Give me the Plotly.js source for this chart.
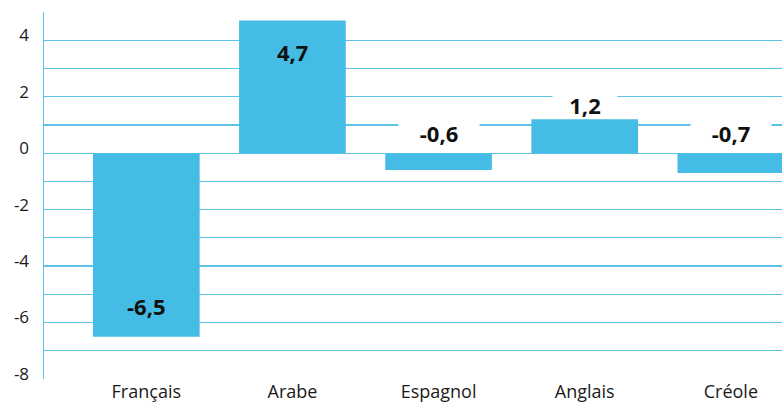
<!DOCTYPE html>
<html>
<head>
<meta charset="utf-8">
<script src="https://cdn.plot.ly/plotly-3.0.1.min.js"></script>
<style>
  html, body { margin: 0; padding: 0; background: #fff; }
  #chart { width: 782px; height: 406px; }
</style>
</head>
<body>
<div id="chart"></div>
<script>
// langues et variations
let langues = ["Français", "Arabe", "Espagnol", "Anglais", "Créole"];
let variations = [-6.5, 4.7, -0.6, 1.2, -0.7];
let etiquettes = ["-6,5", "4,7", "-0,6", "1,2", "-0,7"];

let graduations = [-8, -6, -4, -2, 0, 2, 4];
let textesGrad = ["-8", "-6", "-4", "-2", "0", "2", "4"];

let bleu = "#45BCE5";
let grille = "#5EC3E6";

// place de l'étiquette : dans la barre si elle est grande, au-dessus sinon
function posEtiquette(v) {
    if (Math.abs(v) > 3) {
        return v - Math.sign(v) * 1.1;
    }
    if (v > 0) return v + 0.5;
    return 0.7;
}

let annots = [];
for (let i = 0; i < langues.length; i++) {
    let dedans = Math.abs(variations[i]) > 3;
    annots.push({
        x: langues[i],
        y: posEtiquette(variations[i]),
        text: "<b>" + etiquettes[i] + "</b>",
        showarrow: false,
        font: { size: 22, color: "#111" },
        bgcolor: dedans ? "rgba(0,0,0,0)" : "#ffffff",
        borderpad: 0,
        height: 24,
        width: dedans ? null : (variations[i] > 0 ? 64 : 80)
    });
}

var barres = {
    x: langues,
    y: variations,
    type: "bar",
    marker: { color: bleu },
    width: 0.73,
    hoverinfo: "none"
};

var layout = {
    width: 782,
    height: 406,
    margin: { l: 44, r: 0, t: 12, b: 27, pad: 0 },
    paper_bgcolor: "#fff",
    plot_bgcolor: "#fff",
    showlegend: false,
    font: { family: "Open Sans, Noto Sans, sans-serif", size: 17, color: "#1a1a1a" },
    xaxis: {
        range: [-0.70, 4.35],
        showgrid: false,
        zeroline: false,
        showline: false,
        ticks: "",
        tickfont: { size: 18, color: "#1a1a1a" }
    },
    yaxis: {
        range: [-8, 5],
        tickvals: graduations,
        ticktext: textesGrad,
        showgrid: true,
        gridcolor: grille,
        gridwidth: 1.2,
        minor: { dtick: 1, tick0: 0, showgrid: true, gridcolor: grille, gridwidth: 1.2 },
        zeroline: false,
        showline: true,
        linecolor: grille,
        linewidth: 1.5,
        ticks: "",
        ticklabelstandoff: 10,
        ticklabelshift: -5,
        tickfont: { size: 17, color: "#1a1a1a" }
    },
    annotations: annots
};

Plotly.newPlot("chart", [barres], layout, { displayModeBar: false, staticPlot: true });
</script>
</body>
</html>
